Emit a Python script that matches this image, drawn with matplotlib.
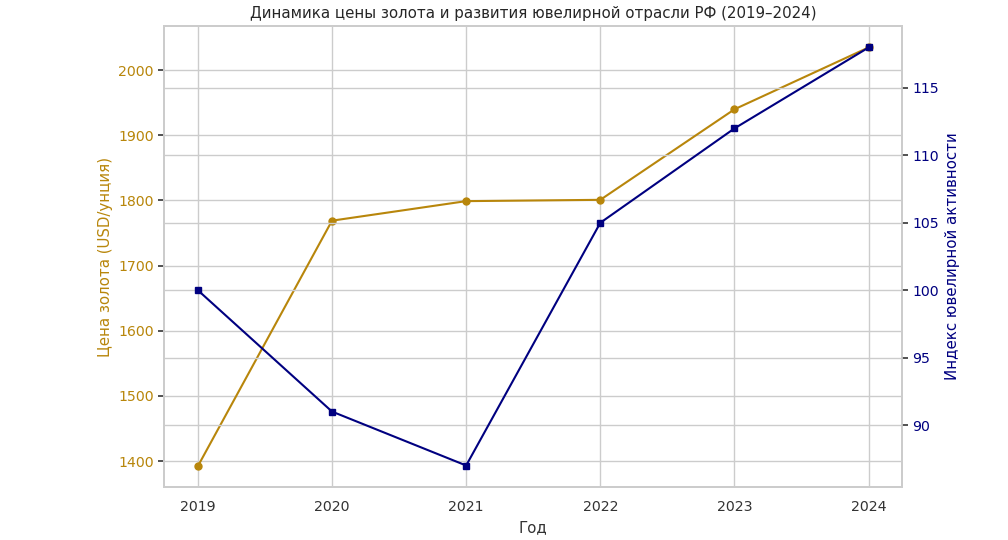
import matplotlib
matplotlib.use("Agg")
import matplotlib.pyplot as plt
import seaborn as sns

years = [2019, 2020, 2021, 2022, 2023, 2024]
gold_price = [1392, 1769, 1799, 1801, 1940, 2035]
jewelry_index = [100, 91, 87, 105, 112, 118]

sns.set_theme(style="whitegrid")
plt.rcParams['font.family'] = ['DejaVu Sans']

gold_color = "darkgoldenrod"
idx_color = "navy"
label_fs = 10.8
tick_fs = 10.2

fig, ax1 = plt.subplots(figsize=(10.08, 5.4), dpi=100)
fig.subplots_adjust(left=0.163, right=0.895, top=0.952, bottom=0.098)

ax1.plot(years, gold_price, color=gold_color, marker="o", markersize=5, linewidth=1.5)
ax1.set_ylabel("Цена золота (USD/унция)", color=gold_color, fontsize=label_fs)
ax1.set_xlabel("Год", fontsize=label_fs, color="#333333")
ax1.tick_params(axis="y", labelcolor=gold_color, left=True, length=4, width=1.2,
                color="#333333", labelsize=tick_fs)
ax1.tick_params(axis="x", labelsize=tick_fs, colors="#333333")
ax1.set_xticks(years)
ax1.set_ylim(1360, 2068)
ax1.set_xlim(2018.75, 2024.25)

ax2 = ax1.twinx()
ax2.plot(years, jewelry_index, color=idx_color, marker="s", markersize=5, linewidth=1.5)
ax2.set_ylabel("Индекс ювелирной активности", color=idx_color, fontsize=label_fs)
ax2.tick_params(axis="y", labelcolor=idx_color, right=True, length=4, width=1.2,
                color="#333333", labelsize=tick_fs)
ax2.set_ylim(85.4, 119.6)
ax2.set_yticks([90, 95, 100, 105, 110, 115])
ax2.grid(True, axis="y")
ax2.grid(False, axis="x")

for ax in (ax1, ax2):
    for s in ax.spines.values():
        s.set_color("#cccccc")
        s.set_linewidth(1.25)

ax1.set_title("Динамика цены золота и развития ювелирной отрасли РФ (2019–2024)",
              fontsize=label_fs, color="#262626")

fig.savefig("out.png", dpi=100)
